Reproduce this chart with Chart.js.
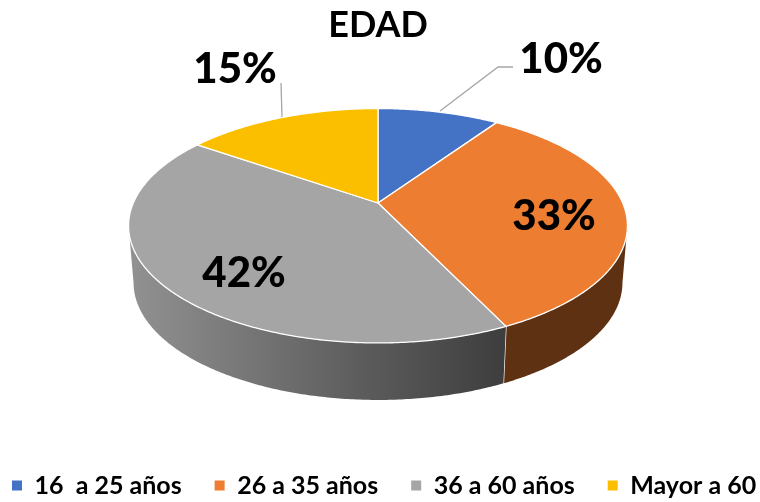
<!DOCTYPE html>
<html><head><meta charset="utf-8">
<style>html,body{margin:0;padding:0;background:#fff}#w{width:760px;height:502px}</style>
<script src="https://cdn.jsdelivr.net/npm/chart.js@4"></script>
</head><body><div id="w"><canvas id="c" width="760" height="502"></canvas></div>
<script>
const titleText = 'EDAD';
const categories = ['16  a 25 años','26 a 35 años','36 a 60 años','Mayor a 60'];
const shares = [9.5,33.4,41.8,15.3];
const colors = ['#4472c4','#ed7d31','#a5a5a5','#fcbf00'];
const sideColors = ['#2a4476','#5f3113',null,'#977200'];
const FONT = 'Lato, sans-serif';
// projection of the flat pie into perspective
const P = {cx:378, cy:203, a:244.7, b:112.8, k:0.194, depth:57, shrink:0.98};
function rimTop(t){const u=Math.sin(t),v=-Math.cos(t),d=1-P.k*v;return [P.cx+P.a*u/d,P.cy+P.b*v/d];}
function rimLow(t){const p=rimTop(t);return [P.cx+(p[0]-P.cx)*P.shrink,p[1]+P.depth];}
const tR=Math.acos(-P.k), tL=2*Math.PI-tR;
// label anchors / leaders (pixel styling)
const labelPos=[[561,59],[554,216],[244,273],[235,69]];
const leaders=[[[440,111],[498,67],[513,67]],[],[],[[282,117],[281,83]]];

const pie3d={id:'pie3d',
 beforeLayout(chart){
  const L=chart.legend;
  if(!L._wide){L._wide=true;const u=L.update;L.update=function(w,h,m){return u.call(L,w+110,h,m);};}
 },
 afterLayout(chart){
  const L=chart.legend;
  L.left=-31; L.right=L.lineWidths[0]+22;
 },
 beforeDatasetsDraw(chart){
  const ctx=chart.ctx, arcs=chart.getDatasetMeta(0).data;
  const ang=arcs.map(a=>[a.startAngle+Math.PI/2,a.endAngle+Math.PI/2]);
  ctx.save();
  // side wall
  ang.forEach((r,i)=>{
    const s=Math.max(r[0],tR), e=Math.min(r[1],tL);
    if(e<=s) return;
    const n=Math.ceil((e-s)/0.01);
    ctx.beginPath();
    for(let j=0;j<=n;j++){const p=rimTop(s+(e-s)*j/n);j?ctx.lineTo(p[0],p[1]):ctx.moveTo(p[0],p[1]);}
    for(let j=n;j>=0;j--){const p=rimLow(s+(e-s)*j/n);ctx.lineTo(p[0],p[1]);}
    ctx.closePath();
    if(sideColors[i]) ctx.fillStyle=sideColors[i];
    else{const g=ctx.createLinearGradient(128,0,503,0);
      g.addColorStop(0,'#929292');g.addColorStop(.6,'#5e5e5e');g.addColorStop(1,'#3e3e3e');ctx.fillStyle=g;}
    ctx.fill();
    // divider at wall seams
    if(r[1]<tL){const a=rimTop(r[1]),b=rimLow(r[1]);ctx.beginPath();ctx.moveTo(a[0],a[1]);ctx.lineTo(b[0],b[1]);ctx.strokeStyle='#fff';ctx.lineWidth=1.3;ctx.stroke();}
  });
  // top face
  ang.forEach((r,i)=>{
    const n=Math.ceil((r[1]-r[0])/0.01);
    ctx.beginPath();ctx.moveTo(P.cx,P.cy);
    for(let j=0;j<=n;j++){const p=rimTop(r[0]+(r[1]-r[0])*j/n);ctx.lineTo(p[0],p[1]);}
    ctx.closePath();
    ctx.fillStyle=colors[i];ctx.fill();
    ctx.strokeStyle='#fff';ctx.lineWidth=1.3;ctx.lineJoin='round';ctx.stroke();
  });
  ctx.restore();
  return false;
 },
 afterDraw(chart){
  const ctx=chart.ctx;
  ctx.save();
  ctx.strokeStyle='#a6a6a6';ctx.lineWidth=1.3;
  leaders.forEach(l=>{if(!l.length)return;ctx.beginPath();l.forEach((p,j)=>j?ctx.lineTo(p[0],p[1]):ctx.moveTo(p[0],p[1]));ctx.stroke();});
  ctx.fillStyle='#000';ctx.font='900 42px '+FONT;ctx.textAlign='center';ctx.textBaseline='middle';
  shares.forEach((v,i)=>ctx.fillText(Math.round(v)+'%',labelPos[i][0],labelPos[i][1]));
  ctx.restore();
 }
};
new Chart(document.getElementById('c'),{
 type:'pie',
 data:{labels:categories,datasets:[{data:shares,backgroundColor:colors,borderWidth:0}]},
 options:{responsive:false,animation:false,
  layout:{padding:{left:0,right:4,top:0,bottom:-6}},
  plugins:{
   title:{display:true,text:titleText,color:'#000',font:{family:FONT,size:36,weight:'bold'},padding:{top:4,bottom:4}},
   legend:{position:'bottom',labels:{boxWidth:10,boxHeight:10,padding:33,color:'#000',font:{family:FONT,size:25,weight:'bold'}}},
   tooltip:{enabled:false}
  }},
 plugins:[pie3d]
});
</script></body></html>
